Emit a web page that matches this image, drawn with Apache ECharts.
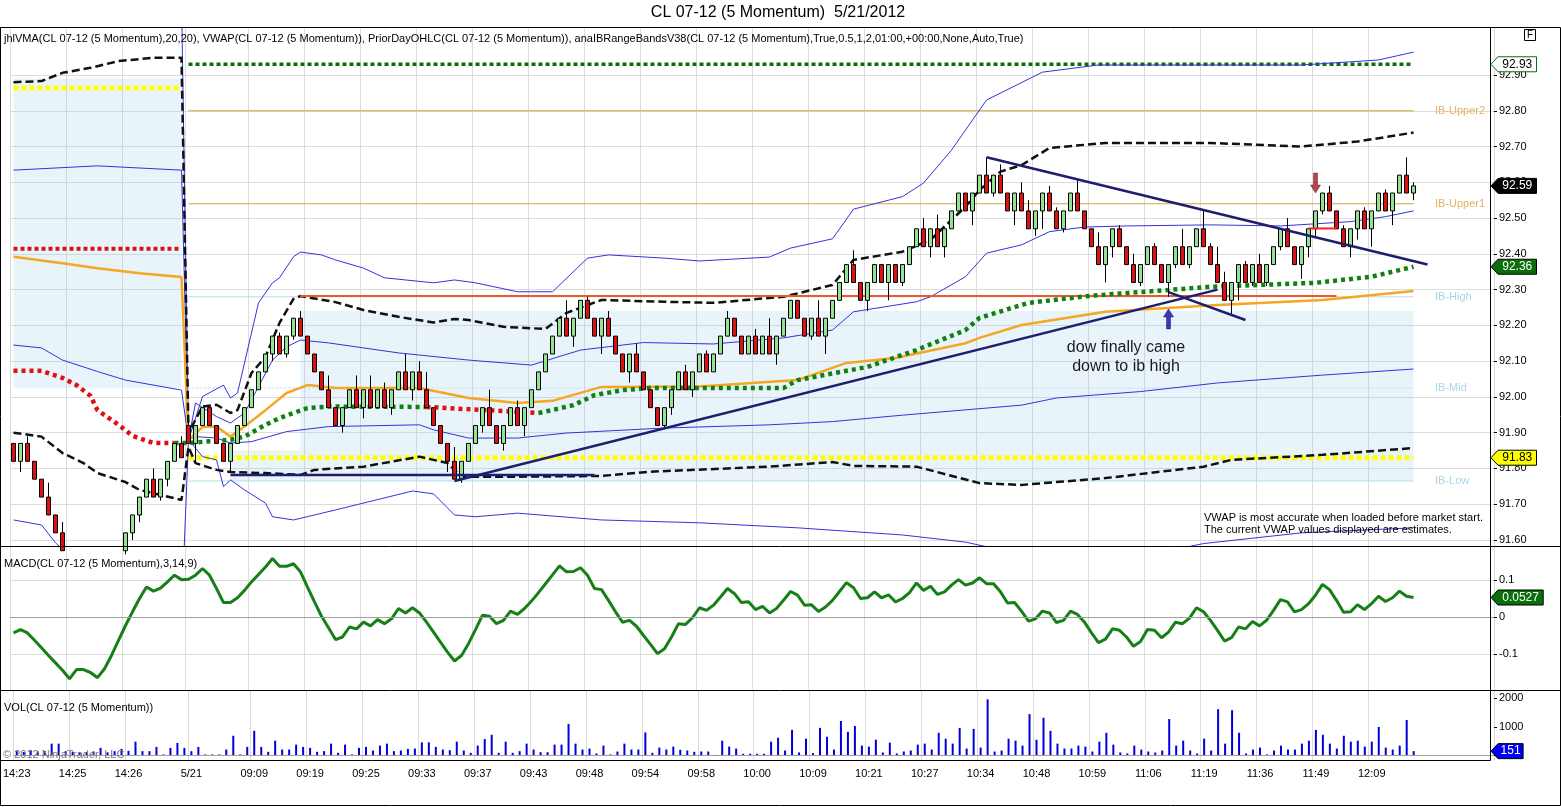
<!DOCTYPE html>
<html>
<head>
<meta charset="utf-8">
<title>CL 07-12 (5 Momentum)  5/21/2012</title>
<script src="https://cdn.jsdelivr.net/npm/echarts@6/dist/echarts.min.js"></script>
<style>
  html, body { margin: 0; padding: 0; background: #fff; }
  #chart { width: 1561px; height: 807px; }
</style>
</head>
<body>
<div id="chart"></div>
<script>
// x axis: bar slots (201 bars + empty right margin), labels at some bars
const slotCount = 212;
const labelBars = [0, 8, 16, 25, 34, 42, 50, 58, 66, 74, 82, 90, 98, 106, 114, 122, 130, 138, 146, 154, 162, 170, 178, 186, 194];
const labelTexts = ['14:23', '14:25', '14:26', '5/21', '09:09', '09:19', '09:25', '09:33', '09:37', '09:43', '09:48', '09:54',
  '09:58', '10:00', '10:09', '10:21', '10:27', '10:34', '10:48', '10:59', '11:06', '11:19', '11:36', '11:49', '12:09'];

const priceTicks = [91.6, 91.7, 91.8, 91.9, 92.0, 92.1, 92.2, 92.3, 92.4, 92.5, 92.6, 92.7, 92.8, 92.9];
const macdTicks = [-0.1, 0, 0.1];
const volTicks = [0, 1000, 2000];

// 5 Momentum bars
const opens = [
  91.87, 91.82, 91.87, 91.82, 91.77, 91.72, 91.67, 91.62, 91.57, 91.52,
  91.57, 91.52, 91.47, 91.42, 91.47, 91.52, 91.57, 91.62, 91.67, 91.72,
  91.77, 91.72, 91.77, 91.82, 91.87, 91.92, 91.87, 91.92, 91.97, 91.92,
  91.87, 91.82, 91.87, 91.92, 91.97, 92.02, 92.07, 92.12, 92.17, 92.12,
  92.17, 92.22, 92.17, 92.12, 92.07, 92.02, 91.97, 91.92, 91.97, 92.02,
  91.97, 92.02, 91.97, 92.02, 91.97, 92.02, 92.07, 92.02, 92.07, 92.02,
  91.97, 91.92, 91.87, 91.82, 91.77, 91.82, 91.87, 91.92, 91.97, 91.92,
  91.87, 91.92, 91.97, 91.92, 91.97, 92.02, 92.07, 92.12, 92.17, 92.22,
  92.17, 92.22, 92.27, 92.22, 92.17, 92.22, 92.17, 92.12, 92.07, 92.12,
  92.07, 92.02, 91.97, 91.92, 91.97, 92.02, 92.07, 92.02, 92.07, 92.12,
  92.07, 92.12, 92.17, 92.22, 92.17, 92.12, 92.17, 92.12, 92.17, 92.12,
  92.17, 92.22, 92.27, 92.22, 92.17, 92.22, 92.17, 92.22, 92.27, 92.32,
  92.37, 92.32, 92.27, 92.32, 92.37, 92.32, 92.37, 92.32, 92.37, 92.42,
  92.47, 92.42, 92.47, 92.42, 92.47, 92.52, 92.57, 92.52, 92.57, 92.62,
  92.57, 92.62, 92.57, 92.52, 92.57, 92.52, 92.47, 92.52, 92.57, 92.52,
  92.47, 92.52, 92.57, 92.52, 92.47, 92.42, 92.37, 92.42, 92.47, 92.42,
  92.37, 92.32, 92.37, 92.42, 92.37, 92.32, 92.37, 92.42, 92.37, 92.42,
  92.47, 92.42, 92.37, 92.32, 92.27, 92.32, 92.37, 92.32, 92.37, 92.32,
  92.37, 92.42, 92.47, 92.42, 92.37, 92.42, 92.47, 92.52, 92.57, 92.52,
  92.47, 92.42, 92.47, 92.52, 92.47, 92.52, 92.57, 92.52, 92.57, 92.62,
  92.57
];
const closes = [
  91.82, 91.87, 91.82, 91.77, 91.72, 91.67, 91.62, 91.57, 91.52, 91.57,
  91.52, 91.47, 91.42, 91.47, 91.52, 91.57, 91.62, 91.67, 91.72, 91.77,
  91.72, 91.77, 91.82, 91.87, 91.83, 91.87, 91.92, 91.97, 91.92, 91.87,
  91.82, 91.87, 91.92, 91.97, 92.02, 92.07, 92.12, 92.17, 92.12, 92.17,
  92.22, 92.17, 92.12, 92.07, 92.02, 91.97, 91.92, 91.97, 92.02, 91.97,
  92.02, 91.97, 92.02, 91.97, 92.02, 92.07, 92.02, 92.07, 92.02, 91.97,
  91.92, 91.87, 91.82, 91.77, 91.82, 91.87, 91.92, 91.97, 91.92, 91.87,
  91.92, 91.97, 91.92, 91.97, 92.02, 92.07, 92.12, 92.17, 92.22, 92.17,
  92.22, 92.27, 92.22, 92.17, 92.22, 92.17, 92.12, 92.07, 92.12, 92.07,
  92.02, 91.97, 91.92, 91.97, 92.02, 92.07, 92.02, 92.07, 92.12, 92.07,
  92.12, 92.17, 92.22, 92.17, 92.12, 92.17, 92.12, 92.17, 92.12, 92.17,
  92.22, 92.27, 92.22, 92.17, 92.22, 92.17, 92.22, 92.27, 92.32, 92.37,
  92.32, 92.27, 92.32, 92.37, 92.32, 92.37, 92.32, 92.37, 92.42, 92.47,
  92.42, 92.47, 92.42, 92.47, 92.52, 92.57, 92.52, 92.57, 92.62, 92.57,
  92.62, 92.57, 92.52, 92.57, 92.52, 92.47, 92.52, 92.57, 92.52, 92.47,
  92.52, 92.57, 92.52, 92.47, 92.42, 92.37, 92.42, 92.47, 92.42, 92.37,
  92.32, 92.37, 92.42, 92.37, 92.32, 92.37, 92.42, 92.37, 92.42, 92.47,
  92.42, 92.37, 92.32, 92.27, 92.32, 92.37, 92.32, 92.37, 92.32, 92.37,
  92.42, 92.47, 92.42, 92.37, 92.42, 92.47, 92.52, 92.57, 92.52, 92.47,
  92.42, 92.47, 92.52, 92.47, 92.52, 92.57, 92.52, 92.57, 92.62, 92.57,
  92.59
];
const lows = [
  91.82, 91.79, 91.82, 91.77, 91.72, 91.67, 91.62, 91.57, 91.52, 91.50,
  91.52, 91.47, 91.40, 91.42, 91.46, 91.51, 91.56, 91.60, 91.65, 91.72,
  91.72, 91.71, 91.75, 91.82, 91.83, 91.87, 91.82, 91.92, 91.92, 91.87,
  91.82, 91.79, 91.87, 91.92, 91.97, 92.02, 92.07, 92.10, 92.12, 92.11,
  92.16, 92.17, 92.12, 92.07, 92.02, 91.97, 91.92, 91.90, 91.97, 91.97,
  91.94, 91.97, 91.97, 91.97, 91.95, 92.02, 92.02, 91.99, 92.02, 91.97,
  91.92, 91.87, 91.79, 91.77, 91.76, 91.82, 91.87, 91.90, 91.92, 91.87,
  91.85, 91.92, 91.92, 91.89, 91.97, 92.02, 92.07, 92.12, 92.17, 92.17,
  92.14, 92.22, 92.22, 92.17, 92.12, 92.17, 92.12, 92.07, 92.04, 92.07,
  92.02, 91.97, 91.92, 91.91, 91.95, 92.02, 92.02, 92.00, 92.07, 92.07,
  92.07, 92.12, 92.17, 92.17, 92.12, 92.12, 92.12, 92.12, 92.12, 92.09,
  92.17, 92.22, 92.22, 92.17, 92.16, 92.17, 92.12, 92.22, 92.27, 92.32,
  92.32, 92.27, 92.24, 92.32, 92.32, 92.27, 92.32, 92.31, 92.37, 92.42,
  92.42, 92.39, 92.42, 92.39, 92.47, 92.52, 92.52, 92.48, 92.57, 92.57,
  92.56, 92.57, 92.52, 92.48, 92.52, 92.47, 92.45, 92.47, 92.52, 92.47,
  92.46, 92.52, 92.52, 92.47, 92.42, 92.37, 92.32, 92.39, 92.42, 92.37,
  92.32, 92.31, 92.37, 92.37, 92.32, 92.28, 92.36, 92.37, 92.36, 92.42,
  92.42, 92.37, 92.32, 92.27, 92.23, 92.27, 92.32, 92.31, 92.32, 92.31,
  92.37, 92.41, 92.42, 92.37, 92.33, 92.39, 92.45, 92.51, 92.52, 92.47,
  92.42, 92.39, 92.44, 92.47, 92.42, 92.52, 92.52, 92.48, 92.57, 92.57,
  92.55
];
const highs = [
  91.87, 91.87, 91.89, 91.82, 91.77, 91.76, 91.67, 91.65, 91.57, 91.57,
  91.57, 91.52, 91.47, 91.47, 91.52, 91.57, 91.62, 91.67, 91.72, 91.77,
  91.80, 91.77, 91.82, 91.87, 91.89, 91.93, 91.92, 91.97, 91.97, 91.92,
  91.87, 91.87, 91.92, 91.97, 92.02, 92.07, 92.12, 92.17, 92.18, 92.17,
  92.22, 92.24, 92.17, 92.12, 92.07, 92.06, 91.97, 91.97, 92.02, 92.06,
  92.02, 92.06, 92.02, 92.04, 92.02, 92.07, 92.12, 92.07, 92.10, 92.07,
  91.97, 91.92, 91.87, 91.86, 91.82, 91.87, 91.92, 91.97, 92.02, 91.92,
  91.92, 91.97, 91.99, 91.97, 92.02, 92.07, 92.12, 92.17, 92.22, 92.27,
  92.22, 92.27, 92.28, 92.22, 92.22, 92.24, 92.17, 92.12, 92.12, 92.15,
  92.07, 92.02, 91.97, 91.97, 92.02, 92.07, 92.09, 92.07, 92.12, 92.13,
  92.12, 92.17, 92.24, 92.22, 92.17, 92.17, 92.19, 92.17, 92.22, 92.17,
  92.22, 92.27, 92.27, 92.22, 92.22, 92.27, 92.22, 92.27, 92.32, 92.37,
  92.41, 92.32, 92.32, 92.37, 92.37, 92.37, 92.37, 92.37, 92.42, 92.47,
  92.50, 92.47, 92.51, 92.47, 92.52, 92.57, 92.57, 92.57, 92.62, 92.67,
  92.62, 92.65, 92.57, 92.57, 92.60, 92.55, 92.52, 92.57, 92.59, 92.53,
  92.52, 92.57, 92.61, 92.52, 92.47, 92.46, 92.42, 92.47, 92.48, 92.42,
  92.40, 92.37, 92.42, 92.43, 92.37, 92.37, 92.42, 92.47, 92.42, 92.47,
  92.52, 92.43, 92.42, 92.35, 92.32, 92.37, 92.38, 92.37, 92.40, 92.37,
  92.42, 92.47, 92.50, 92.42, 92.42, 92.47, 92.52, 92.57, 92.59, 92.52,
  92.48, 92.47, 92.52, 92.53, 92.52, 92.57, 92.58, 92.57, 92.62, 92.67,
  92.60
];

// MACD(3,14,9) line, one value per bar
const macdValues = [
  -0.043, -0.034, -0.043, -0.063, -0.083, -0.104, -0.124, -0.144, -0.167, -0.142,
  -0.142, -0.150, -0.164, -0.140, -0.104, -0.063, -0.023, 0.014, 0.050, 0.081,
  0.070, 0.078, 0.095, 0.113, 0.101, 0.102, 0.113, 0.131, 0.113, 0.077,
  0.039, 0.039, 0.052, 0.072, 0.095, 0.115, 0.135, 0.158, 0.137, 0.137,
  0.144, 0.122, 0.081, 0.041, 0.002, -0.029, -0.061, -0.054, -0.027, -0.032,
  -0.014, -0.024, -0.007, -0.018, -0.005, 0.023, 0.011, 0.025, 0.011, -0.014,
  -0.041, -0.068, -0.095, -0.119, -0.104, -0.072, -0.034, 0.005, 0.002, -0.018,
  -0.009, 0.016, 0.007, 0.023, 0.043, 0.066, 0.090, 0.114, 0.138, 0.122,
  0.123, 0.133, 0.113, 0.077, 0.074, 0.045, 0.014, -0.014, -0.009, -0.025,
  -0.050, -0.074, -0.099, -0.086, -0.054, -0.018, -0.020, -0.002, 0.025, 0.018,
  0.032, 0.054, 0.077, 0.063, 0.039, 0.041, 0.020, 0.029, 0.011, 0.023,
  0.045, 0.069, 0.059, 0.032, 0.033, 0.015, 0.027, 0.045, 0.069, 0.093,
  0.079, 0.050, 0.052, 0.068, 0.052, 0.060, 0.041, 0.050, 0.066, 0.092,
  0.072, 0.083, 0.061, 0.068, 0.086, 0.101, 0.086, 0.092, 0.106, 0.090,
  0.090, 0.068, 0.038, 0.039, 0.016, -0.011, -0.005, 0.016, 0.011, -0.015,
  -0.009, 0.016, 0.007, -0.014, -0.043, -0.069, -0.060, -0.032, -0.036, -0.054,
  -0.079, -0.066, -0.034, -0.036, -0.056, -0.041, -0.014, -0.018, -0.003, 0.025,
  0.014, -0.009, -0.036, -0.065, -0.056, -0.027, -0.032, -0.012, -0.024, -0.009,
  0.018, 0.047, 0.041, 0.014, 0.020, 0.036, 0.059, 0.088, 0.074, 0.045,
  0.013, 0.014, 0.033, 0.020, 0.036, 0.056, 0.042, 0.052, 0.070, 0.056,
  0.0527
];

// volume per bar
const volumes = [
  150, 120, 180, 140, 160, 414, 414, 150, 130, 100,
  120, 140, 265, 110, 150, 230, 160, 483, 150, 150,
  299, 35, 265, 437, 265, 150, 299, 35, 35, 35,
  207, 690, 35, 299, 863, 299, 127, 518, 207, 207,
  380, 299, 265, 127, 150, 414, 92, 380, 35, 265,
  299, 173, 345, 414, 150, 173, 230, 242, 460, 460,
  299, 207, 184, 483, 173, 92, 345, 575, 725, 92,
  483, 92, 150, 414, 207, 115, 115, 380, 380, 1104,
  414, 207, 242, 69, 345, 35, 138, 414, 207, 207,
  805, 92, 276, 207, 311, 196, 173, 127, 138, 138,
  20, 518, 311, 242, 58, 58, 58, 58, 483, 621,
  173, 897, 104, 587, 81, 966, 656, 207, 1208, 828,
  1035, 345, 311, 552, 104, 449, 69, 138, 173, 380,
  414, 207, 794, 587, 414, 966, 242, 932, 276, 1967,
  138, 173, 587, 518, 345, 1449, 552, 1322, 863, 414,
  242, 242, 345, 311, 138, 483, 794, 380, 104, 69,
  345, 207, 138, 104, 173, 1277, 345, 518, 173, 69,
  587, 173, 1622, 414, 1587, 794, 69, 207, 276, 35,
  173, 345, 207, 207, 414, 518, 897, 725, 414, 242,
  690, 483, 518, 311, 483, 1000, 276, 207, 345, 1242,
  151
];

// indicator lines, read as [bar, price]
const bandUpper = [[0, 92.880], [4, 92.883], [7, 92.906], [11, 92.920], [15, 92.939], [20, 92.948], [24, 92.948],
  [25, 91.900], [27, 91.973], [29, 91.978], [31, 91.955], [32, 91.963], [34, 92.067], [36, 92.112], [38, 92.207],
  [40, 92.274], [41, 92.282], [46, 92.265], [50, 92.243], [55, 92.224], [60, 92.208], [63, 92.218], [65, 92.215],
  [70, 92.196], [76, 92.190], [79, 92.235], [84, 92.271], [93, 92.266], [100, 92.263], [110, 92.280], [117, 92.313],
  [120, 92.383], [127, 92.406], [131, 92.439], [136, 92.532], [138, 92.578], [141, 92.630], [144, 92.648],
  [148, 92.696], [156, 92.710], [171, 92.710], [184, 92.700], [192, 92.714], [200, 92.739]];
const bandLower = [[0, 91.900], [4, 91.889], [7, 91.843], [10, 91.815], [12, 91.787], [16, 91.762], [18, 91.740], [24, 91.712],
  [25, 91.860], [26, 91.815], [29, 91.796], [31, 91.790], [36, 91.787], [41, 91.782], [43, 91.796], [50, 91.805],
  [58, 91.833], [62, 91.815], [64, 91.777], [72, 91.777], [84, 91.779], [91, 91.791], [108, 91.805], [117, 91.818],
  [120, 91.807], [129, 91.805], [138, 91.759], [144, 91.754], [156, 91.773], [170, 91.805], [174, 91.824],
  [187, 91.838], [200, 91.857]];
const vwap = [[0, 92.392], [7, 92.374], [12, 92.360], [18, 92.346], [24, 92.335], [25, 91.880], [27, 91.916], [29, 91.917],
  [31, 91.889], [33, 91.917], [36, 91.963], [39, 92.011], [42, 92.033], [46, 92.025], [58, 92.025], [65, 91.997],
  [72, 91.983], [77, 91.989], [84, 92.028], [98, 92.029], [112, 92.047], [119, 92.095], [126, 92.109], [136, 92.150],
  [138, 92.165], [144, 92.201], [156, 92.238], [172, 92.257], [187, 92.271], [200, 92.296]];
const vwapUpper1 = [[0, 92.634], [12, 92.646], [24, 92.634], [25, 91.880], [26, 91.983], [29, 91.945], [31, 91.927],
  [33, 91.955], [35, 92.029], [37, 92.103], [39, 92.140], [41, 92.159], [45, 92.151], [55, 92.123], [65, 92.103],
  [74, 92.089], [81, 92.131], [90, 92.152], [100, 92.148], [110, 92.165], [117, 92.187], [120, 92.238], [129, 92.266],
  [131, 92.280], [136, 92.336], [139, 92.402], [144, 92.425], [148, 92.462], [153, 92.475], [159, 92.478],
  [171, 92.481], [181, 92.478], [191, 92.490], [196, 92.504], [200, 92.520]];
const vwapLower1 = [[0, 92.145], [4, 92.137], [7, 92.103], [12, 92.071], [16, 92.047], [24, 92.019], [25, 91.880],
  [26, 91.889], [29, 91.885], [31, 91.871], [34, 91.875], [39, 91.903], [45, 91.917], [58, 91.922], [60, 91.908],
  [65, 91.885], [72, 91.885], [79, 91.899], [93, 91.913], [108, 91.922], [117, 91.931], [127, 91.949], [144, 91.977],
  [149, 91.997], [161, 92.015], [172, 92.039], [187, 92.061], [200, 92.078]];
const vwapUpper2 = [[0, 93.13], [24, 93.12], [25, 91.880], [27, 92.001], [30, 92.033], [31, 91.997], [32, 92.011],
  [35, 92.263], [37, 92.319], [38, 92.333], [40, 92.392], [41, 92.405], [44, 92.397], [46, 92.383], [50, 92.360],
  [53, 92.333], [60, 92.319], [63, 92.327], [66, 92.319], [72, 92.294], [77, 92.294], [82, 92.388], [85, 92.397],
  [93, 92.388], [98, 92.380], [108, 92.391], [111, 92.416], [117, 92.442], [120, 92.525], [127, 92.560],
  [130, 92.598], [134, 92.690], [139, 92.830], [147, 92.908], [155, 92.928], [184, 92.928], [195, 92.942], [200, 92.964]];
const vwapLower2 = [[0, 91.656], [4, 91.642], [6, 91.592], [10, 91.52], [16, 91.45], [24, 91.39], [25, 91.880],
  [27, 91.833], [29, 91.824], [30, 91.749], [31, 91.768], [33, 91.740], [36, 91.703], [37, 91.665], [40, 91.656],
  [46, 91.684], [57, 91.737], [60, 91.729], [63, 91.670], [66, 91.665], [72, 91.675], [84, 91.656], [98, 91.648],
  [112, 91.634], [127, 91.614], [136, 91.594], [144, 91.56], [160, 91.55], [170, 91.59], [184, 91.620], [200, 91.634]];

// jhlVMA, split into rising (green) and falling (red) stretches
const vmaRising = [
  [[23, 91.871], [25, 91.871], [28, 91.876], [31, 91.880], [33, 91.889], [34, 91.900], [36, 91.922], [38, 91.941],
   [40, 91.955], [42, 91.969], [45, 91.973], [59, 91.972]],
  [[75, 91.955], [76, 91.959], [80, 91.977], [83, 92.005], [87, 92.019], [91, 92.025], [110, 92.025], [112, 92.047],
   [122, 92.084], [129, 92.131], [136, 92.187], [138, 92.221], [143, 92.251], [145, 92.263], [154, 92.283],
   [165, 92.299], [171, 92.308], [186, 92.319], [194, 92.336], [200, 92.364]]
];
const vmaFalling = [
  [[0, 92.073], [4, 92.073], [7, 92.053], [9, 92.033], [11, 92.003], [12, 91.963], [15, 91.922], [17, 91.891],
   [20, 91.871], [23, 91.871]],
  [[59, 91.972], [75, 91.955]]
];

// prior day OHLC levels
const priorLeftHigh = 92.864;
const priorLeftLow = 92.414;
const priorHigh = 92.93;
const priorLow = 91.83;

// initial balance bands
const ibNames = ['IB-Upper2', 'IB-Upper1', 'IB-High', 'IB-Mid', 'IB-Low'];
const ibValues = [92.80, 92.54, 92.28, 92.025, 91.765];
const ibBoxes = [[0, 24, 92.025, 92.89], [31, 41, 91.765, 91.85], [41, 200, 91.765, 92.24]];

// drawn lines and arrows
const trendLines = [
  [[63, 91.765], [172, 92.30]],
  [[139, 92.67], [202, 92.37]],
  [[165, 92.293], [176, 92.215]],
  [[31, 91.782], [83, 91.782]]
];
const ibHighLine = [[41, 92.282], [189, 92.282]];
const shortRedLine = [[185, 92.471], [189, 92.471]];
const arrowBars = [186, 165];
const arrowPrices = [92.598, 92.218];

const sessionStart = 25;
const lastBar = 200;

const FONT = '"Liberation Sans", Arial, "DejaVu Sans", sans-serif';
const categories = Array.from({length: slotCount}, (_, i) => String(i));
const labelAt = {};
labelBars.forEach((b, k) => { labelAt[b] = labelTexts[k]; });
const isLabelBar = (i) => labelAt[i] !== undefined;

function line(data, color, width, type, z, extra) {
  return Object.assign({
    type: 'line', xAxisIndex: 0, yAxisIndex: 0, data: data,
    symbol: 'none', showSymbol: false, silent: true, animation: false,
    lineStyle: {color: color, width: width, type: type || 'solid', cap: 'butt'},
    z: z
  }, extra || {});
}

const series = [];

// shaded IB boxes
series.push(line([[0, ibValues[4]]], 'rgba(0,0,0,0)', 0, 'solid', 1, {
  markArea: {
    silent: true,
    itemStyle: {color: 'rgba(150, 205, 230, 0.22)'},
    data: ibBoxes.map(b => [{xAxis: String(b[0]), yAxis: b[3]}, {xAxis: String(b[1]), yAxis: b[2]}])
  }
}));

// IB lines
series.push(line([[sessionStart, ibValues[0]], [lastBar, ibValues[0]]], '#d6a33e', 1, 'solid', 2));
series.push(line([[sessionStart, ibValues[1]], [lastBar, ibValues[1]]], '#d6a33e', 1, 'solid', 2));
series.push(line([[sessionStart, ibValues[2]], [lastBar, ibValues[2]]], '#b6dcea', 1, 'solid', 2));
series.push(line([[sessionStart, ibValues[3]], [lastBar, ibValues[3]]], '#b6dcea', 1, [2, 2], 2));
series.push(line([[sessionStart, ibValues[4]], [lastBar, ibValues[4]]], '#b6dcea', 1, 'solid', 2));

// prior day levels
series.push(line([[0, priorLeftHigh], [24, priorLeftHigh]], '#ffff00', 5, [5, 3], 3));
series.push(line([[0, priorLeftLow], [24, priorLeftLow]], '#dd1111', 4, [4, 3], 3));
series.push(line([[sessionStart, priorHigh], [lastBar, priorHigh]], '#0a6e0a', 3.5, [4, 3], 3));
series.push(line([[sessionStart, priorLow], [lastBar, priorLow]], '#ffff00', 5, [5, 3], 3));

// VWAP with bands
series.push(line(vwapUpper2, '#3333dd', 1, 'solid', 3));
series.push(line(vwapLower2, '#3333dd', 1, 'solid', 3));
series.push(line(vwapUpper1, '#3333dd', 1, 'solid', 3));
series.push(line(vwapLower1, '#3333dd', 1, 'solid', 3));
series.push(line(vwap, '#f5a623', 2.5, 'solid', 3));

// envelope (black dashed)
series.push(line(bandUpper, '#111111', 2.5, [8, 4], 3));
series.push(line(bandLower, '#111111', 2.5, [8, 4], 3));

// IB high line (orange red)
series.push(line(ibHighLine, '#f0582a', 2, 'solid', 3));

// jhlVMA dotted
vmaRising.forEach(seg => series.push(line(seg, '#108010', 4.5, [4, 4], 4)));
vmaFalling.forEach(seg => series.push(line(seg, '#dd1111', 4.5, [4, 4], 4)));

// candles
series.push({
  type: 'candlestick', xAxisIndex: 0, yAxisIndex: 0, z: 5, animation: false, silent: true,
  barWidth: 5,
  data: opens.map((o, i) => [o, closes[i], lows[i], highs[i]]),
  itemStyle: {color: '#94e394', color0: '#dd1111', borderColor: '#000', borderColor0: '#000', borderWidth: 1}
});

// hand drawn lines
trendLines.forEach(seg => series.push(line(seg, '#1e1e6e', 2.5, 'solid', 6)));
series.push(line(shortRedLine, '#ff2020', 2, 'solid', 6));

// arrows
const arrowPath = 'path://M5,0 L10,8 L7,8 L7,20 L3,20 L3,8 L0,8 Z';
series.push({
  type: 'scatter', xAxisIndex: 0, yAxisIndex: 0, z: 7, silent: true, animation: false,
  symbol: arrowPath, symbolSize: [10, 20],
  data: [
    {value: [arrowBars[0], arrowPrices[0]], symbolRotate: 180, itemStyle: {color: '#a11a1a', borderColor: '#5a0a0a', borderWidth: 0.5}},
    {value: [arrowBars[1], arrowPrices[1]], itemStyle: {color: '#0a0aa8', borderColor: '#05055a', borderWidth: 0.5}}
  ]
});

// MACD
series.push({
  type: 'line', xAxisIndex: 1, yAxisIndex: 1, data: macdValues, symbol: 'none', showSymbol: false,
  silent: true, animation: false, z: 3,
  lineStyle: {color: '#167f16', width: 3},
  markLine: {silent: true, symbol: ['none', 'none'], label: {show: false}, animation: false,
    lineStyle: {color: '#a0a0a0', width: 1, type: 'solid'}, data: [{yAxis: 0}]}
});

// Volume
series.push({
  type: 'bar', xAxisIndex: 2, yAxisIndex: 2, data: volumes, barWidth: 2, silent: true, animation: false, z: 3,
  itemStyle: {color: '#0000dd'},
  markLine: {silent: true, symbol: ['none', 'none'], label: {show: false}, animation: false,
    lineStyle: {color: '#a0a0a0', width: 1, type: 'solid'}, data: [{yAxis: 0}]}
});

const gridBase = {left: 10, right: 67, containLabel: false};
const grids = [
  Object.assign({top: 28, height: 518}, gridBase),
  Object.assign({top: 547, height: 143}, gridBase),
  Object.assign({top: 691, height: 69}, gridBase)
];

function xAxisFor(idx, showLabels) {
  return {
    type: 'category', gridIndex: idx, data: categories, boundaryGap: true,
    axisLine: {show: false}, axisTick: {show: false},
    axisLabel: {
      show: showLabels, interval: (i) => isLabelBar(i), formatter: (v) => labelAt[+v] || '',
      fontSize: 11, color: '#000', margin: 8, fontFamily: FONT
    },
    splitLine: {show: true, interval: (i) => isLabelBar(i), lineStyle: {color: '#dcdcdc', width: 1}}
  };
}

function yAxisFor(idx, min, max, ticks, fmt, showSplit) {
  return {
    type: 'value', gridIndex: idx, position: 'right', min: min, max: max,
    axisLine: {show: false},
    axisTick: {show: true, length: 3, inside: false, lineStyle: {color: '#000'}, customValues: ticks},
    axisLabel: {customValues: ticks, formatter: fmt, fontSize: 11, color: '#000', margin: 5, fontFamily: FONT},
    splitLine: {show: showSplit, lineStyle: {color: '#dcdcdc', width: 1}}
  };
}

const option = {
  animation: false,
  backgroundColor: '#ffffff',
  textStyle: {fontFamily: FONT},
  grid: grids,
  xAxis: [xAxisFor(0, false), xAxisFor(1, false), xAxisFor(2, true)],
  yAxis: [
    yAxisFor(0, 91.5832, 93.0314, priceTicks, v => v.toFixed(2), true),
    yAxisFor(1, -0.1973, 0.1892, macdTicks, v => (v === 0 ? '0' : String(v)), true),
    yAxisFor(2, -160, 2260, volTicks, v => String(v), false)
  ],
  series: series
};

const chart = echarts.init(document.getElementById('chart'));
chart.setOption(option);

// graphics: frame, captions, value markers
const px = (axis, v) => chart.convertToPixel({yAxisIndex: axis}, v);

function text(x, y, str, size, fill, align, extra) {
  return Object.assign({
    type: 'text', x: x, y: y, z: 100, silent: true,
    style: {text: str, fill: fill || '#000', font: size + 'px ' + FONT,
      textAlign: align || 'left', align: align || 'left', textVerticalAlign: 'middle', verticalAlign: 'middle'}
  }, extra || {});
}

function hline(x1, x2, y, color) {
  return {type: 'line', z: 90, silent: true, shape: {x1: x1, y1: y, x2: x2, y2: y}, style: {stroke: color || '#000', lineWidth: 1}};
}

function badge(y, str, fill, color, stroke) {
  const w = str.length * 6.7 + 5;
  const x0 = 1491;
  return {
    type: 'group', z: 110, silent: true,
    children: [
      {type: 'polygon', z: 110, shape: {points: [[x0, y], [x0 + 7, y - 7.5], [x0 + 7 + w, y - 7.5], [x0 + 7 + w, y + 7.5], [x0 + 7, y + 7.5]]},
        style: {fill: fill, stroke: stroke || '#000', lineWidth: 1}},
      text(x0 + 7 + w / 2, y, str, 12, color, 'center', {z: 111})
    ]
  };
}

const lastClose = closes[closes.length - 1];
const lastVma = vmaRising[vmaRising.length - 1];
const vmaLast = lastVma[lastVma.length - 1][1];
const macdLast = macdValues[macdValues.length - 1];
const volLast = volumes[volumes.length - 1];

const ibColors = ['#e6b25e', '#e6b25e', '#a9d6e6', '#a9d6e6', '#a9d6e6'];

const graphics = [
  {type: 'rect', z: 90, silent: true, shape: {x: 0.5, y: 27.5, width: 1560, height: 778}, style: {fill: 'none', stroke: '#000', lineWidth: 1}},
  hline(0, 1561, 546.5),
  hline(0, 1561, 690.5),
  hline(0, 1490.5, 760.5),
  {type: 'line', z: 90, silent: true, shape: {x1: 1490.5, y1: 27, x2: 1490.5, y2: 760.5}, style: {stroke: '#000', lineWidth: 1}},
  {type: 'rect', z: 90, silent: true, shape: {x: 1524.5, y: 29.5, width: 11, height: 11}, style: {fill: '#fff', stroke: '#000', lineWidth: 1}},
  text(1530, 35.5, 'F', 10, '#000', 'center', {z: 120}),
  text(778, 13, 'CL 07-12 (5 Momentum)  5/21/2012', 16, '#000', 'center'),
  text(4, 39, 'jhlVMA(CL 07-12 (5 Momentum),20,20), VWAP(CL 07-12 (5 Momentum)), PriorDayOHLC(CL 07-12 (5 Momentum)), anaIBRangeBandsV38(CL 07-12 (5 Momentum),True,0.5,1,2,01:00,+00:00,None,Auto,True)', 11, '#000', 'left'),
  text(4, 564, 'MACD(CL 07-12 (5 Momentum),3,14,9)', 11, '#000', 'left'),
  text(4, 708, 'VOL(CL 07-12 (5 Momentum))', 11, '#000', 'left'),
  text(3, 755, '\u00a9 2012 NinjaTrader, LLC', 11, '#7a7a7a', 'left'),
  text(1126, 348, 'dow finally came', 16, '#1a1a1a', 'center'),
  text(1126, 367, 'down to ib high', 16, '#1a1a1a', 'center'),
  text(1204, 518, 'VWAP is most accurate when loaded before market start.', 11, '#000', 'left'),
  text(1204, 530, 'The current VWAP values displayed are estimates.', 11, '#000', 'left')
];

ibNames.forEach((name, k) => {
  graphics.push(text(1435, px(0, ibValues[k]), name, 11, ibColors[k], 'left'));
});

graphics.push(badge(px(0, priorHigh), priorHigh.toFixed(2), '#ffffff', '#000', '#0a6e0a'));
graphics.push(badge(px(0, lastClose), lastClose.toFixed(2), '#000000', '#ffffff', '#000'));
graphics.push(badge(px(0, vmaLast), vmaLast.toFixed(2), '#0a6e0a', '#ffffff', '#000'));
graphics.push(badge(px(0, priorLow), priorLow.toFixed(2), '#ffff00', '#000', '#000'));
graphics.push(badge(px(1, macdLast), macdLast.toFixed(4), '#0a6e0a', '#ffffff', '#000'));
graphics.push(badge(px(2, volLast), String(volLast), '#0000ee', '#ffffff', '#000'));

chart.setOption({graphic: {elements: graphics}});
</script>
</body>
</html>
